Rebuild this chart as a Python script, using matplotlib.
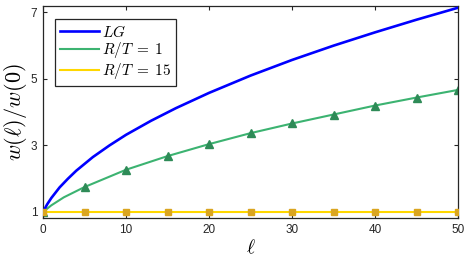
import matplotlib
matplotlib.use("Agg")
import matplotlib.pyplot as plt

# values
ell_lg = [0, 0.5, 1, 2, 3, 4, 6, 8, 10, 13, 16, 20, 25, 30, 35, 40, 45, 50]
w_lg = [1.0, 1.23, 1.42, 1.74, 2.0, 2.24, 2.65, 3.0, 3.32, 3.74, 4.12, 4.58,
        5.1, 5.57, 6.0, 6.4, 6.78, 7.14]

ell_rt1 = [0, 1, 2.5, 5, 10, 15, 20, 25, 30, 35, 40, 45, 50]
w_rt1 = [1.0, 1.2, 1.44, 1.75, 2.27, 2.68, 3.04, 3.37, 3.66, 3.93, 4.2, 4.44, 4.67]
rt1_marks = [0, 3, 4, 5, 6, 7, 8, 9, 10, 11, 12]

ell_rt15 = [0, 5, 10, 15, 20, 25, 30, 35, 40, 45, 50]
w_rt15 = [1.0] * 11

xticks = [0, 10, 20, 30, 40, 50]
yticks = [1, 3, 5, 7]

plt.rcParams["mathtext.fontset"] = "cm"
plt.rcParams["font.family"] = "Liberation Sans"

fig = plt.figure(figsize=(4.66, 2.66), dpi=100)
ax = fig.add_axes([0.0923, 0.1805, 0.8907, 0.798])

ax.plot(ell_lg, w_lg, color="#0000ff", lw=1.9, label="$LG$", zorder=3)
ax.plot(ell_rt1, w_rt1, color="#3cb371", lw=1.5, label=r"$R/T\;=\;1$", zorder=2)
ax.plot(ell_rt15, w_rt15, color="#ffd700", lw=1.5, label=r"$R/T\;=\;15$", zorder=4)
# markers drawn separately so the legend shows plain lines
ax.plot([ell_rt1[i] for i in rt1_marks], [w_rt1[i] for i in rt1_marks],
        ls="none", marker="^", markersize=6, color="#2e8b57", zorder=2)
ax.plot(ell_rt15, w_rt15, ls="none", marker="s", markersize=5,
        color="#daa520", zorder=4)

ax.set_xlim(0, 50)
ax.set_ylim(0.82, 7.2)
ax.set_xticks(xticks)
ax.set_yticks(yticks)
ax.tick_params(direction="in", top=True, right=True, length=3, width=0.8,
               labelsize=8.5, colors="#262626", pad=4)
for s in ax.spines.values():
    s.set_color("#262626")
    s.set_linewidth(0.9)

ax.set_xlabel(r"$\ell$", fontsize=14, labelpad=2)
ax.set_ylabel(r"$w(\ell)/w(0)$", fontsize=16, labelpad=1)

leg = ax.legend(loc="upper left", bbox_to_anchor=(0.029, 0.937), borderaxespad=0,
                fontsize=11, handlelength=2.55, fancybox=False, framealpha=1,
                borderpad=0.3, labelspacing=0.05, handletextpad=0.2)
leg.get_frame().set_edgecolor("#262626")
leg.get_frame().set_linewidth(0.9)

fig.savefig("out.png", dpi=100)
plt.close(fig)
